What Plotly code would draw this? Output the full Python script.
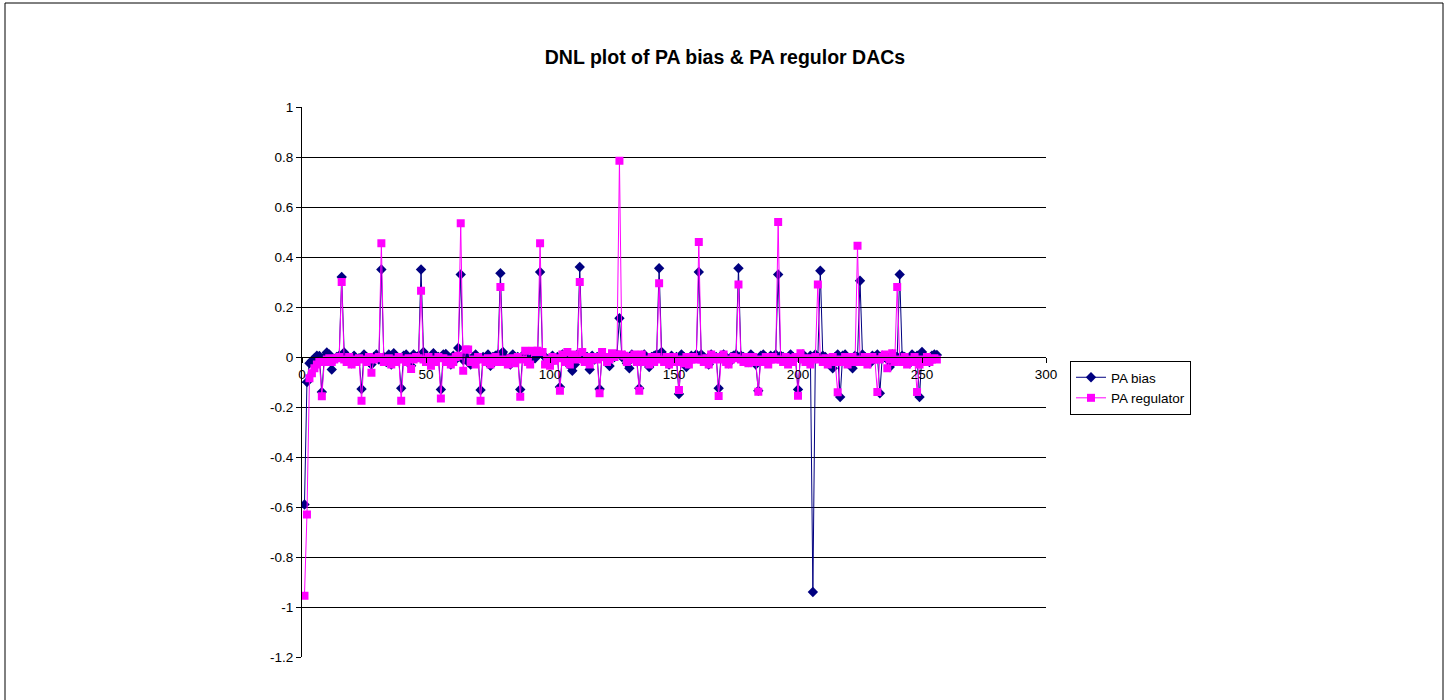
import plotly.graph_objects as go

# DAC codes 1..256
codes = list(range(1, 257))

# DNL of PA bias DAC (rows of 16 codes)
pa_bias = [
    -0.59, -0.10, -0.025, -0.015, -0.005, 0.005, 0.004, -0.14, 0.0, 0.018, 0.01, -0.05, -0.01, 0.0, 0.005, 0.32,
    0.018, 0.0, -0.01, -0.025, 0.005, -0.015, -0.005, -0.128, 0.01, 0.0, -0.02, -0.03, 0.0, 0.01, -0.01, 0.35,
    0.0, -0.02, 0.01, -0.03, 0.015, 0.0, -0.01, -0.125, 0.005, 0.01, -0.015, -0.035, 0.01, 0.0, 0.005, 0.35,
    0.02, 0.0, -0.01, -0.02, 0.015, -0.01, 0.0, -0.13, 0.01, 0.012, 0.0, -0.03, 0.005, -0.01, 0.036, 0.33,
    -0.012, 0.005, -0.02, -0.03, 0.0, 0.01, -0.01, -0.132, 0.0, -0.005, 0.01, -0.035, 0.0, 0.005, 0.01, 0.335,
    0.02, 0.0, -0.01, -0.03, 0.01, -0.015, 0.0, -0.13, 0.005, 0.015, -0.01, -0.02, 0.0, -0.005, 0.01, 0.34,
    0.01, 0.0, -0.015, -0.025, 0.005, -0.01, 0.0, -0.12, 0.01, 0.0, -0.02, -0.035, -0.055, -0.03, 0.01, 0.36,
    0.015, -0.01, 0.0, -0.05, 0.005, -0.01, 0.0, -0.128, 0.01, 0.0, -0.01, -0.036, 0.005, 0.0, 0.01, 0.155,
    0.0, 0.005, -0.025, -0.045, 0.01, 0.0, -0.01, -0.125, 0.005, 0.01, -0.01, -0.04, 0.0, 0.005, 0.01, 0.355,
    0.02, 0.0, -0.015, -0.03, 0.005, -0.01, 0.0, -0.148, 0.01, 0.0, -0.04, -0.02, 0.005, 0.0, 0.01, 0.34,
    0.01, 0.0, -0.01, -0.03, 0.01, -0.005, 0.0, -0.125, 0.005, 0.01, -0.01, -0.025, 0.0, 0.005, 0.01, 0.355,
    0.005, 0.0, -0.01, -0.02, 0.01, 0.0, -0.03, -0.135, 0.005, 0.01, 0.0, -0.02, 0.005, 0.0, 0.01, 0.33,
    0.005, 0.0, -0.01, -0.02, 0.01, 0.0, -0.005, -0.13, 0.005, 0.01, 0.0, -0.02, 0.005, -0.94, 0.01, 0.0,
    0.345, 0.005, 0.0, -0.01, -0.02, -0.045, 0.0, 0.01, -0.16, 0.005, 0.01, -0.01, -0.02, -0.045, 0.005, 0.0,
    0.305, 0.01, 0.0, -0.01, -0.025, 0.005, 0.0, 0.01, -0.145, 0.005, 0.0, -0.01, -0.04, 0.01, 0.005, 0.0,
    0.33, 0.005, 0.0, -0.01, -0.025, 0.01, 0.0, 0.005, -0.16, 0.02, 0.0, -0.015, -0.02, 0.005, 0.01, 0.008,
]

# DNL of PA regulator DAC (rows of 16 codes)
pa_regulator = [
    -0.955, -0.63, -0.085, -0.065, -0.045, -0.03, -0.02, -0.157, -0.02, -0.01, -0.005, -0.02, -0.01, -0.005, 0.0, 0.30,
    -0.01, -0.02, 0.0, -0.03, -0.01, -0.02, -0.005, -0.175, -0.01, -0.02, 0.0, -0.063, -0.01, -0.005, 0.0, 0.455,
    -0.02, -0.01, -0.005, -0.03, -0.01, -0.02, 0.0, -0.175, -0.01, -0.02, -0.005, -0.048, -0.01, 0.0, -0.005, 0.265,
    -0.01, -0.02, 0.0, -0.035, -0.01, -0.02, 0.0, -0.166, -0.005, -0.02, -0.01, -0.03, -0.02, 0.0, 0.005, 0.535,
    -0.055, 0.03, 0.03, -0.02, -0.01, -0.03, 0.0, -0.175, -0.01, -0.02, -0.005, -0.03, -0.01, 0.0, -0.02, 0.28,
    -0.01, -0.02, -0.03, -0.005, -0.01, -0.025, 0.0, -0.159, -0.01, 0.025, -0.02, -0.03, 0.025, 0.02, 0.025, 0.455,
    0.02, -0.03, -0.01, -0.035, 0.0, -0.015, -0.005, -0.135, 0.01, -0.02, 0.02, -0.03, 0.0, 0.01, -0.01, 0.30,
    0.02, -0.02, 0.0, -0.03, -0.01, 0.0, -0.01, -0.145, 0.02, 0.0, -0.02, -0.01, 0.015, 0.0, 0.01, 0.785,
    0.01, 0.005, -0.02, -0.01, 0.0, 0.01, -0.02, -0.135, 0.01, -0.02, -0.01, -0.03, 0.0, -0.02, 0.0, 0.295,
    -0.01, -0.02, 0.0, -0.03, -0.01, 0.0, -0.02, -0.132, -0.01, -0.025, 0.0, -0.03, -0.01, 0.0, -0.01, 0.46,
    -0.01, -0.02, -0.005, -0.03, 0.01, -0.01, 0.0, -0.156, -0.01, 0.01, -0.02, -0.03, -0.01, 0.0, -0.005, 0.29,
    -0.01, -0.02, 0.0, -0.025, -0.01, 0.0, -0.02, -0.139, -0.01, -0.02, 0.0, -0.03, -0.01, 0.0, -0.01, 0.54,
    -0.01, -0.02, 0.0, -0.03, -0.005, -0.02, 0.0, -0.155, 0.015, -0.01, -0.02, -0.005, -0.03, -0.01, 0.0, 0.29,
    -0.01, -0.02, -0.005, -0.03, -0.01, 0.0, -0.02, -0.141, -0.01, -0.02, 0.0, -0.03, -0.01, 0.0, -0.02, 0.445,
    -0.01, -0.02, 0.0, -0.03, -0.01, 0.0, -0.01, -0.14, -0.01, 0.0, 0.01, -0.045, -0.01, 0.015, -0.02, 0.28,
    -0.01, -0.02, 0.0, -0.03, -0.01, -0.02, 0.0, -0.14, -0.03, -0.01, -0.02, 0.0, -0.02, -0.01, -0.005, -0.01,
]

x_tick_vals = [0, 50, 100, 150, 200, 250, 300]
x_tick_text = ["0", "50", "100", "150", "200", "250", "300"]
y_tick_vals = [-1.2, -1.0, -0.8, -0.6, -0.4, -0.2, 0.0, 0.2, 0.4, 0.6, 0.8, 1.0]
y_tick_text = ["-1.2", "-1", "-0.8", "-0.6", "-0.4", "-0.2", "0", "0.2", "0.4", "0.6", "0.8", "1"]

W, H = 1450, 700
L, R, T, B = 302, 404, 107, 43
pw, ph = W - L - R, H - T - B

fig = go.Figure()
fig.add_trace(go.Scatter(
    x=codes, y=pa_bias, mode="lines+markers", name="PA bias",
    line=dict(color="#000080", width=1),
    marker=dict(symbol="diamond", size=8, color="#000080"),
))
fig.add_trace(go.Scatter(
    x=codes, y=pa_regulator, mode="lines+markers", name="PA regulator",
    line=dict(color="#FF00FF", width=1),
    marker=dict(symbol="square", size=8, color="#FF00FF"),
))

ymin, ymax = -1.2, 1.0
fig.update_layout(
    width=W, height=H,
    margin=dict(l=L, r=R, t=T, b=B),
    paper_bgcolor="white", plot_bgcolor="white",
    font=dict(family="Liberation Sans, Arial, sans-serif", size=13.5, color="black"),
    title=dict(text="<b>DNL plot of PA bias &amp; PA regulor DACs</b>",
               x=0.5, xref="container", xanchor="center",
               y=1 - 57 / H, yref="container", yanchor="middle",
               font=dict(size=19.5, color="black")),
    xaxis=dict(range=[0, 300], tickvals=x_tick_vals, ticktext=x_tick_text,
               showgrid=False, zeroline=False, showline=True, linecolor="black", linewidth=1,
               ticks="outside", ticklen=5, tickcolor="black",
               anchor="free", position=(0 - ymin) / (ymax - ymin)),
    yaxis=dict(range=[ymin, ymax], tickvals=y_tick_vals, ticktext=y_tick_text,
               showgrid=True, gridcolor="black", gridwidth=1, zeroline=False,
               showline=True, linecolor="black", linewidth=1,
               ticks="outside", ticklen=5, tickcolor="black"),
    legend=dict(x=(1070 - L) / pw, y=(H - B - 361) / ph, xanchor="left", yanchor="top",
                bordercolor="black", borderwidth=1, bgcolor="white",
                font=dict(size=13.5), tracegroupgap=0),
    showlegend=True,
)

# outer chart frame
fig.add_shape(type="rect", xref="paper", yref="paper",
              x0=(5 - L) / pw, x1=(1443 - L) / pw,
              y0=(H - B - 705) / ph, y1=(H - B - 3) / ph,
              line=dict(color="black", width=1), fillcolor="rgba(0,0,0,0)", layer="below")

fig.write_html("out.html", config={"displayModeBar": False},
               post_script="document.body.style.margin='0px';")
